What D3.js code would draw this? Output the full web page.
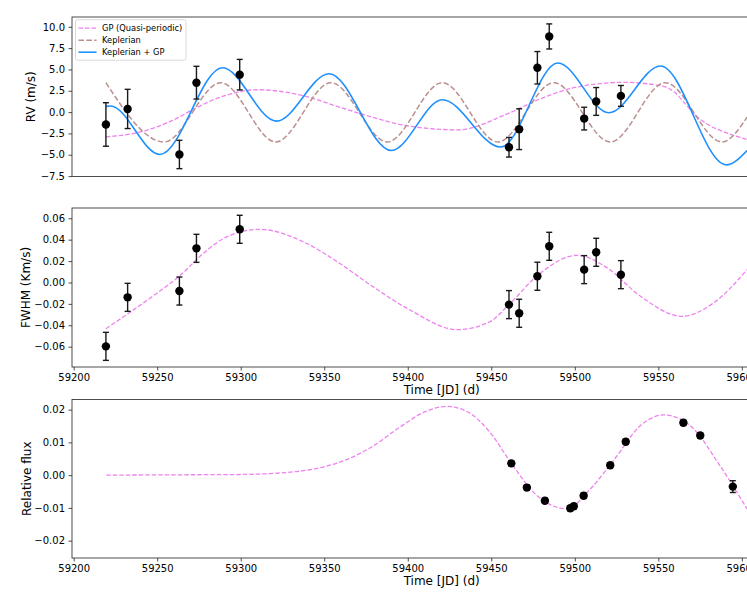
<!DOCTYPE html>
<html>
<head>
<meta charset="utf-8">
<script src="https://cdn.jsdelivr.net/npm/d3@7"></script>
<style>
  body { margin: 0; background: #fff; }
  svg { display: block; font-family: "DejaVu Sans", sans-serif; }
</style>
</head>
<body>
<svg></svg>
<script>
// observation epochs (shared by RV and FWHM)
var obsT = [59219.3, 59232.3, 59263.3, 59273.5, 59299.4, 59460.6, 59466.7, 59477.6, 59484.7, 59505.6, 59512.8, 59527.6];

// RV data (m/s)
var rvV = [-1.45, 0.37, -4.97, 3.45, 4.39, -4.12, -2.0, 5.2, 8.87, -0.76, 1.25, 1.9];
var rvErr = [2.55, 2.3, 1.66, 1.92, 1.79, 1.15, 2.39, 1.9, 1.47, 1.33, 1.63, 1.22];

// RV models
var keplerT = [59219.3, 59254.2, 59288.1, 59321.0, 59354.0, 59387.8, 59420.7, 59453.9, 59487.5, 59521.3, 59554.2, 59588.2, 59603.1];
var keplerV = [3.45, -3.5, 3.45, -3.5, 3.45, -3.5, 3.45, -3.5, 3.45, -3.5, 3.45, -3.5, -0.6];
var rvGpT = [59219.3, 59239.3, 59259.2, 59272.2, 59289.1, 59310.0, 59339.0, 59358.9, 59378.8, 59398.7, 59430.0, 59459.6, 59479.5, 59499.5, 59529.4, 59549.0, 59559.0, 59566.0, 59573.0, 59581.0, 59589.0, 59603.1];
var rvGpV = [-2.9, -2.35, -0.98, 0.39, 1.84, 2.62, 1.84, 0.59, -0.59, -1.57, -2.08, -0.2, 1.57, 2.86, 3.49, 3.17, 2.45, 1.0, -0.5, -1.6, -2.3, -3.2];
var sumT = [59219.3, 59222.0, 59251.6, 59289.1, 59321.4, 59352.9, 59390.2, 59420.7, 59455.6, 59489.9, 59520.4, 59551.3, 59590.7, 59603.1];
var sumV = [0.67, 0.72, -4.97, 5.2, -1.06, 4.5, -4.5, 1.45, -4.1, 5.76, -0.08, 5.4, -6.19, -4.5];

// FWHM data (Km/s)
var fwhmV = [-0.0597, -0.0139, -0.008, 0.0319, 0.0497, -0.0207, -0.0288, 0.0058, 0.0338, 0.012, 0.0282, 0.0073];
var fwhmErr = [0.0131, 0.0131, 0.0131, 0.0131, 0.0131, 0.0131, 0.0131, 0.0131, 0.0131, 0.0131, 0.0131, 0.0131];
var fwhmGpT = [59219.3, 59232.3, 59249.2, 59263.2, 59279.1, 59291.1, 59311.1, 59338.9, 59358.9, 59378.8, 59400.5, 59429.7, 59449.6, 59459.6, 59479.5, 59501.4, 59519.4, 59539.3, 59564.2, 59583.2, 59603.1];
var fwhmGpV = [-0.0432, -0.0294, -0.0107, 0.0058, 0.0292, 0.0422, 0.0497, 0.0369, 0.0182, -0.0036, -0.025, -0.0441, -0.0363, -0.0223, 0.0089, 0.0254, 0.0136, -0.0129, -0.0316, -0.019, 0.012];

// photometry
var fluxT = [59462.0, 59471.3, 59482.1, 59497.3, 59499.4, 59505.3, 59521.2, 59530.5, 59565.0, 59575.1, 59594.6];
var fluxV = [0.0036, -0.0038, -0.0078, -0.0101, -0.0095, -0.0063, 0.003, 0.0102, 0.016, 0.0121, -0.0035];
var fluxErr = [0.0008, 0.0008, 0.0008, 0.0008, 0.0008, 0.0008, 0.0008, 0.0008, 0.0008, 0.0008, 0.0018];
var fluxGpT = [59219.5, 59260, 59300, 59333.3, 59348.7, 59364.2, 59379.6, 59395.1, 59410.5, 59423.4, 59436.2, 59449.2, 59462.0, 59477.5, 59495.5, 59508.4, 59523.8, 59539.2, 59553.4, 59570.2, 59585.6, 59603.1];
var fluxGpV = [0, 0.0001, 0.0002, 0.0011, 0.0024, 0.0049, 0.009, 0.0146, 0.0194, 0.021, 0.0192, 0.0131, 0.0036, -0.0063, -0.0103, -0.0047, 0.0049, 0.0151, 0.0184, 0.0146, 0.0039, -0.0103];

// ticks
var xTicks = [59200, 59250, 59300, 59350, 59400, 59450, 59500, 59550, 59600];
var rvTicks = [-7.5, -5.0, -2.5, 0.0, 2.5, 5.0, 7.5, 10.0];
var fwhmTicks = [-0.06, -0.04, -0.02, 0.00, 0.02, 0.04, 0.06];
var fluxTicks = [-0.02, -0.01, 0.00, 0.01, 0.02];
var legendLabels = ["GP (Quasi-periodic)", "Keplerian", "Keplerian + GP"];

var svgWidth = 747;
var svgHeight = 593;
var left = 72, right = 812;
var gpColor = "#ee82ee", kepColor = "#bc8f8f", sumColor = "#1e90ff";

var svg = d3.select("svg").attr("width", svgWidth).attr("height", svgHeight);

var x = d3.scaleLinear().domain([59199, 59642]).range([left, right]);
var yRV = d3.scaleLinear().domain([-7.55, 11.15]).range([176.5, 17]);
var yFW = d3.scaleLinear().domain([-0.079, 0.0696]).range([367, 208]);
var yFL = d3.scaleLinear().domain([-0.0253, 0.0231]).range([558, 399.5]);

function minus(s) { return s.replace("-", "\u2212"); }

function panel(y, ticks, fmt, label, labelX, showX) {
    var g = svg.append("g");
    var r = y.range();
    g.append("rect")
        .attr("x", left).attr("y", r[1])
        .attr("width", right - left).attr("height", r[0] - r[1])
        .attr("fill", "none").attr("stroke", "#222").attr("stroke-width", 0.8);

    var ya = g.append("g").attr("transform", "translate(" + left + ",0)")
        .call(d3.axisLeft(y).tickValues(ticks).tickSize(3.5).tickPadding(3.5)
            .tickFormat(function (d) { return minus(d3.format(fmt)(d)); }));
    ya.select(".domain").remove();
    ya.selectAll("text").attr("font-size", "10px").attr("font-family", "DejaVu Sans").attr("fill", "#000");
    ya.selectAll("line").attr("stroke", "#222").attr("stroke-width", 0.8);

    if (showX) {
        var xa = g.append("g").attr("transform", "translate(0," + r[0] + ")")
            .call(d3.axisBottom(x).tickValues(xTicks).tickSize(3.5).tickPadding(3.5).tickFormat(d3.format("d")));
        xa.select(".domain").remove();
        xa.selectAll("text").attr("font-size", "10px").attr("font-family", "DejaVu Sans").attr("fill", "#000");
        xa.selectAll("line").attr("stroke", "#222").attr("stroke-width", 0.8);
        g.append("text")
            .attr("x", 441.7).attr("y", r[0] + 27)
            .attr("text-anchor", "middle").attr("font-size", "12px")
            .text("Time [JD] (d)");
    }

    var cy = (r[0] + r[1]) / 2;
    g.append("text")
        .attr("transform", "translate(" + labelX + "," + cy + ") rotate(-90)")
        .attr("text-anchor", "middle").attr("font-size", "12px")
        .text(label);
    return g;
}

function curve(g, y, T, V, color, width, dash) {
    var line = d3.line()
        .x(function (d) { return x(d[0]); })
        .y(function (d) { return y(d[1]); })
        .curve(d3.curveMonotoneX);
    g.append("path")
        .datum(d3.zip(T, V))
        .attr("d", line)
        .attr("fill", "none")
        .attr("stroke", color)
        .attr("stroke-width", width)
        .attr("stroke-dasharray", dash);
}

function points(g, y, T, V, E) {
    var data = d3.zip(T, V, E);
    var eb = g.append("g").selectAll("g").data(data).enter().append("g")
        .attr("stroke", "#1a1a1a").attr("stroke-width", 1.4);
    eb.append("line")
        .attr("x1", function (d) { return x(d[0]); })
        .attr("x2", function (d) { return x(d[0]); })
        .attr("y1", function (d) { return y(d[1] - d[2]); })
        .attr("y2", function (d) { return y(d[1] + d[2]); });
    eb.append("line")
        .attr("x1", function (d) { return x(d[0]) - 3; })
        .attr("x2", function (d) { return x(d[0]) + 3; })
        .attr("y1", function (d) { return y(d[1] - d[2]); })
        .attr("y2", function (d) { return y(d[1] - d[2]); });
    eb.append("line")
        .attr("x1", function (d) { return x(d[0]) - 3; })
        .attr("x2", function (d) { return x(d[0]) + 3; })
        .attr("y1", function (d) { return y(d[1] + d[2]); })
        .attr("y2", function (d) { return y(d[1] + d[2]); });
    g.append("g").selectAll("circle").data(data).enter().append("circle")
        .attr("cx", function (d) { return x(d[0]); })
        .attr("cy", function (d) { return y(d[1]); })
        .attr("r", 4.2)
        .attr("fill", "#000");
}

// RV panel
var p1 = panel(yRV, rvTicks, ".1f", "RV (m/s)", 35, false);
curve(p1, yRV, rvGpT, rvGpV, gpColor, 1.3, "4.5,2");
curve(p1, yRV, keplerT, keplerV, kepColor, 1.5, "5.5,2.4");
curve(p1, yRV, sumT, sumV, sumColor, 1.6, null);
points(p1, yRV, obsT, rvV, rvErr);

// legend
var lg = p1.append("g");
lg.append("rect")
    .attr("x", 75.5).attr("y", 19.7).attr("width", 110.5).attr("height", 40.5)
    .attr("rx", 2).attr("fill", "#fff").attr("fill-opacity", 0.8)
    .attr("stroke", "#d0d0d0").attr("stroke-width", 0.8);
var legendStyles = [[gpColor, 1.3, "4.5,2"], [kepColor, 1.5, "5.5,2.4"], [sumColor, 1.6, null]];
legendLabels.forEach(function (t, i) {
    var yy = 28.2 + i * 12;
    lg.append("line")
        .attr("x1", 78.5).attr("x2", 96.5).attr("y1", yy).attr("y2", yy)
        .attr("stroke", legendStyles[i][0]).attr("stroke-width", legendStyles[i][1])
        .attr("stroke-dasharray", legendStyles[i][2]);
    lg.append("text")
        .attr("x", 102).attr("y", yy + 3)
        .attr("font-size", "8.3px")
        .text(t);
});

// FWHM panel
var p2 = panel(yFW, fwhmTicks, ".2f", "FWHM (Km/s)", 29.5, true);
curve(p2, yFW, fwhmGpT, fwhmGpV, gpColor, 1.3, "4.5,2");
points(p2, yFW, obsT, fwhmV, fwhmErr);

// photometry panel
var p3 = panel(yFL, fluxTicks, ".2f", "Relative flux", 31, true);
curve(p3, yFL, fluxGpT, fluxGpV, gpColor, 1.3, "4.5,2");
points(p3, yFL, fluxT, fluxV, fluxErr);
</script>
</body>
</html>
